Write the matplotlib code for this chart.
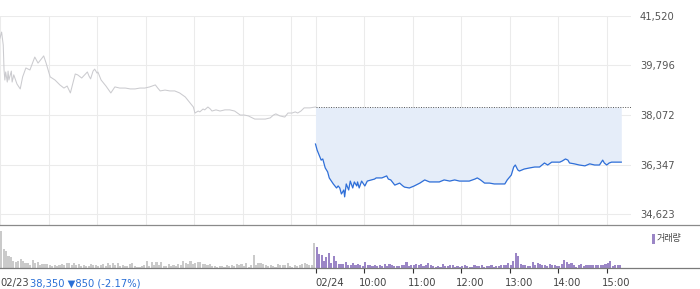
import matplotlib
matplotlib.use('Agg')
import matplotlib.pyplot as plt
import matplotlib.transforms as mtransforms
from matplotlib.patches import Rectangle

# minutes since 09:00 on 02/23 (the 02/24 session starts at minute 390)
prev_minutes = [0, 2, 4, 5, 6, 7, 9, 10, 11, 14, 15, 17, 21, 25, 28, 32, 37, 43, 47, 51,
                54, 57, 62, 68, 74, 79, 83, 87, 93, 96, 101, 108, 110, 112, 115, 117, 120, 121, 125, 131,
                137, 142, 148, 155, 161, 167, 173, 179, 185, 192, 195, 198, 204, 210, 216, 222, 229, 235, 239, 241,
                245, 247, 251, 253, 257, 260, 262, 267, 272, 278, 284, 290, 297, 302, 307, 312, 315, 321, 328, 334,
                338, 341, 346, 352, 356, 361, 365, 368, 372, 376, 383, 390]
prev_prices = [40750, 40960, 40510, 39640, 39290, 39570, 39220, 39600, 39290, 39600, 39220, 39470, 39150, 38980, 39400, 39710, 39640, 40090, 39880, 40020,
               40130, 39880, 39400, 39290, 39120, 39010, 39080, 38840, 39500, 39470, 39360, 39570, 39430, 39330, 39600, 39670, 39530, 39570, 39290, 39080,
               38840, 39050, 39010, 39010, 38980, 38980, 39010, 39010, 39050, 39120, 39010, 38910, 38940, 38910, 38910, 38840, 38700, 38490, 38350, 38140,
               38210, 38180, 38280, 38250, 38350, 38280, 38210, 38250, 38210, 38250, 38250, 38210, 38070, 38070, 38040, 37970, 37930, 37930, 37930, 37970,
               38070, 38110, 38040, 38000, 38140, 38140, 38180, 38140, 38210, 38320, 38320, 38350]

today_minutes = [390, 392, 395, 397, 399, 402, 405, 407, 412, 416, 418, 420, 422, 425, 426, 428, 431, 433, 436, 438,
                 441, 442, 444, 447, 451, 454, 459, 463, 465, 472, 478, 480, 483, 488, 494, 498, 500, 506, 512, 519,
                 525, 531, 537, 543, 549, 556, 562, 568, 574, 580, 587, 590, 594, 599, 605, 611, 617, 624, 627, 632,
                 635, 637, 640, 642, 648, 655, 661, 667, 673, 677, 682, 687, 692, 695, 699, 702, 704, 710, 716, 723,
                 729, 735, 741, 745, 747, 750, 753, 756, 762, 768]
today_prices = [37060, 36850, 36640, 36500, 36540, 36230, 36090, 35880, 35670, 35530, 35600, 35530, 35320, 35460, 35220, 35670, 35460, 35770, 35530, 35740,
                35600, 35740, 35530, 35770, 35600, 35770, 35810, 35840, 35880, 35880, 35950, 35840, 35810, 35630, 35700, 35600, 35560, 35530, 35600, 35700,
                35810, 35740, 35740, 35740, 35810, 35770, 35810, 35770, 35770, 35770, 35840, 35880, 35810, 35700, 35700, 35670, 35670, 35670, 35810, 35980,
                36260, 36330, 36160, 36120, 36190, 36230, 36260, 36260, 36400, 36330, 36430, 36430, 36430, 36470, 36540, 36500, 36400, 36370, 36330, 36300,
                36370, 36330, 36330, 36500, 36400, 36330, 36400, 36430, 36430, 36430]

prev_close = 38350
y_ticks = [34623, 36347, 38072, 39796, 41520]

# volume in 3-minute bins (arbitrary units)
prev_volume = [37, 19, 17, 12, 11, 7, 6, 7, 9, 7, 5, 5, 3, 8, 5, 6, 3, 4, 4, 4,
               3, 2, 3, 2, 3, 4, 3, 5, 5, 3, 5, 3, 4, 2, 3, 2, 2, 4, 3, 3,
               2, 3, 4, 2, 5, 3, 5, 3, 5, 2, 3, 2, 2, 4, 5, 2, 1, 1, 2, 3,
               7, 2, 6, 3, 6, 3, 6, 2, 2, 4, 2, 3, 2, 4, 3, 7, 5, 4, 7, 4,
               5, 6, 6, 4, 4, 3, 4, 2, 2, 1, 2, 2, 1, 3, 2, 3, 2, 4, 3, 4,
               2, 5, 1, 3, 13, 3, 5, 5, 4, 3, 2, 3, 2, 1, 4, 3, 3, 3, 5, 2,
               1, 3, 2, 3, 4, 5, 4, 3, 3, 25]
today_volume = [21, 14, 13, 7, 11, 15, 5, 12, 7, 4, 4, 4, 6, 3, 3, 5, 3, 4, 3, 2,
                6, 3, 3, 2, 3, 2, 3, 2, 4, 2, 4, 3, 2, 2, 2, 3, 3, 6, 2, 3,
                3, 4, 3, 4, 2, 3, 5, 3, 2, 1, 2, 1, 4, 2, 2, 3, 3, 1, 2, 1,
                2, 3, 2, 1, 1, 3, 2, 2, 3, 1, 2, 2, 3, 1, 2, 2, 3, 3, 3, 5,
                3, 7, 15, 12, 4, 3, 3, 2, 2, 6, 3, 5, 4, 3, 3, 2, 4, 3, 3, 2,
                2, 4, 8, 6, 4, 5, 3, 1, 3, 4, 2, 3, 3, 3, 3, 3, 3, 3, 3, 4,
                5, 7, 2, 3, 3, 3]

time_ticks = [390, 450, 510, 570, 630, 690, 750]
time_labels = ['02/24', '10:00', '11:00', '12:00', '13:00', '14:00', '15:00']
prev_day_label = '02/23'
change_label = '38,350 \u25bc850 (-2.17%)'

W, H = 700, 289
fig = plt.figure(figsize=(W / 100, H / 100), dpi=100)

# price panel
ax = fig.add_axes([0, 64 / H, 631 / W, 209 / H])
ax.set_xlim(0, 780)
ax.set_ylim(34240, 41520)
ax.set_xticks([0, 60, 120, 180, 240, 300, 360] + time_ticks)
ax.set_yticks(y_ticks)
ax.set_yticklabels([f'{v:,}' for v in y_ticks])
ax.yaxis.tick_right()
ax.tick_params(axis='y', length=0, pad=6.5, labelsize=7.2, labelcolor='#555555')
ax.tick_params(axis='x', length=0, labelbottom=False)
ax.grid(True, color='#ebebeb', linewidth=0.75)
ax.set_axisbelow(True)
for s in ax.spines.values():
    s.set_visible(False)

ax.fill_between(today_minutes, today_prices, prev_close, color='#e5edf9', linewidth=0, zorder=1)
ax.plot(prev_minutes, prev_prices, color='#cbcbcf', linewidth=0.75, zorder=2)
ax.plot(today_minutes, today_prices, color='#2f6fd8', linewidth=0.9, zorder=3)
ax.plot([390, 780], [prev_close, prev_close], color='#555555', linestyle=(0, (1, 1.5)), linewidth=0.7, zorder=3)

# volume panel
axv = fig.add_axes([0, 21 / H, 1.0, 43 / H])
axv.set_xlim(0, 780 * W / 631)
axv.set_ylim(0, 43)
prev_x = [3 * i + 1.5 for i in range(len(prev_volume))]
today_x = [390 + 3 * i + 1.5 for i in range(len(today_volume))]
axv.bar(prev_x, prev_volume, width=2.6, color='#cacaca', linewidth=0)
axv.bar(today_x, today_volume, width=2.6, color='#9b86c6', linewidth=0)
axv.set_yticks([])
axv.set_xticks(time_ticks)
axv.set_xticklabels([])
axv.tick_params(axis='x', direction='out', length=3.6, width=0.8, color='#333333')
axv.spines['left'].set_visible(False)
axv.spines['right'].set_visible(False)
axv.spines['top'].set_color('#8a8a8a')
axv.spines['top'].set_linewidth(0.9)
axv.spines['bottom'].set_color('#7a7a7a')
axv.spines['bottom'].set_linewidth(0.9)

lab_trans = mtransforms.blended_transform_factory(axv.transData, axv.transAxes)
for i, (t, lab) in enumerate(zip(time_ticks, time_labels)):
    dx = 0 if i == 0 else -5
    tr = mtransforms.offset_copy(lab_trans, fig=fig, x=dx, y=-15, units='dots')
    axv.text(t, 0, lab, transform=tr, ha='left', va='center', fontsize=7.2, color='#444444')
tr = mtransforms.offset_copy(lab_trans, fig=fig, x=0, y=-15, units='dots')
axv.text(0, 0, prev_day_label, transform=tr, ha='left', va='center', fontsize=7.2, color='#444444')
tr = mtransforms.offset_copy(lab_trans, fig=fig, x=30, y=-15, units='dots')
axv.text(0, 0, change_label, transform=tr, ha='left', va='center', fontsize=7.2, color='#2a6fd6')

# volume legend
fig.patches.append(Rectangle((652 / W, 1 - 244 / H), 3 / W, 10 / H, transform=fig.transFigure,
                             facecolor='#9b86c6', edgecolor='none'))
fig.text(657 / W, 1 - 239 / H, '거래량', ha='left', va='center', fontsize=6.5, color='#444444',
         family=['Noto Sans CJK KR', 'DejaVu Sans'])

fig.savefig('out.png', dpi=100)
